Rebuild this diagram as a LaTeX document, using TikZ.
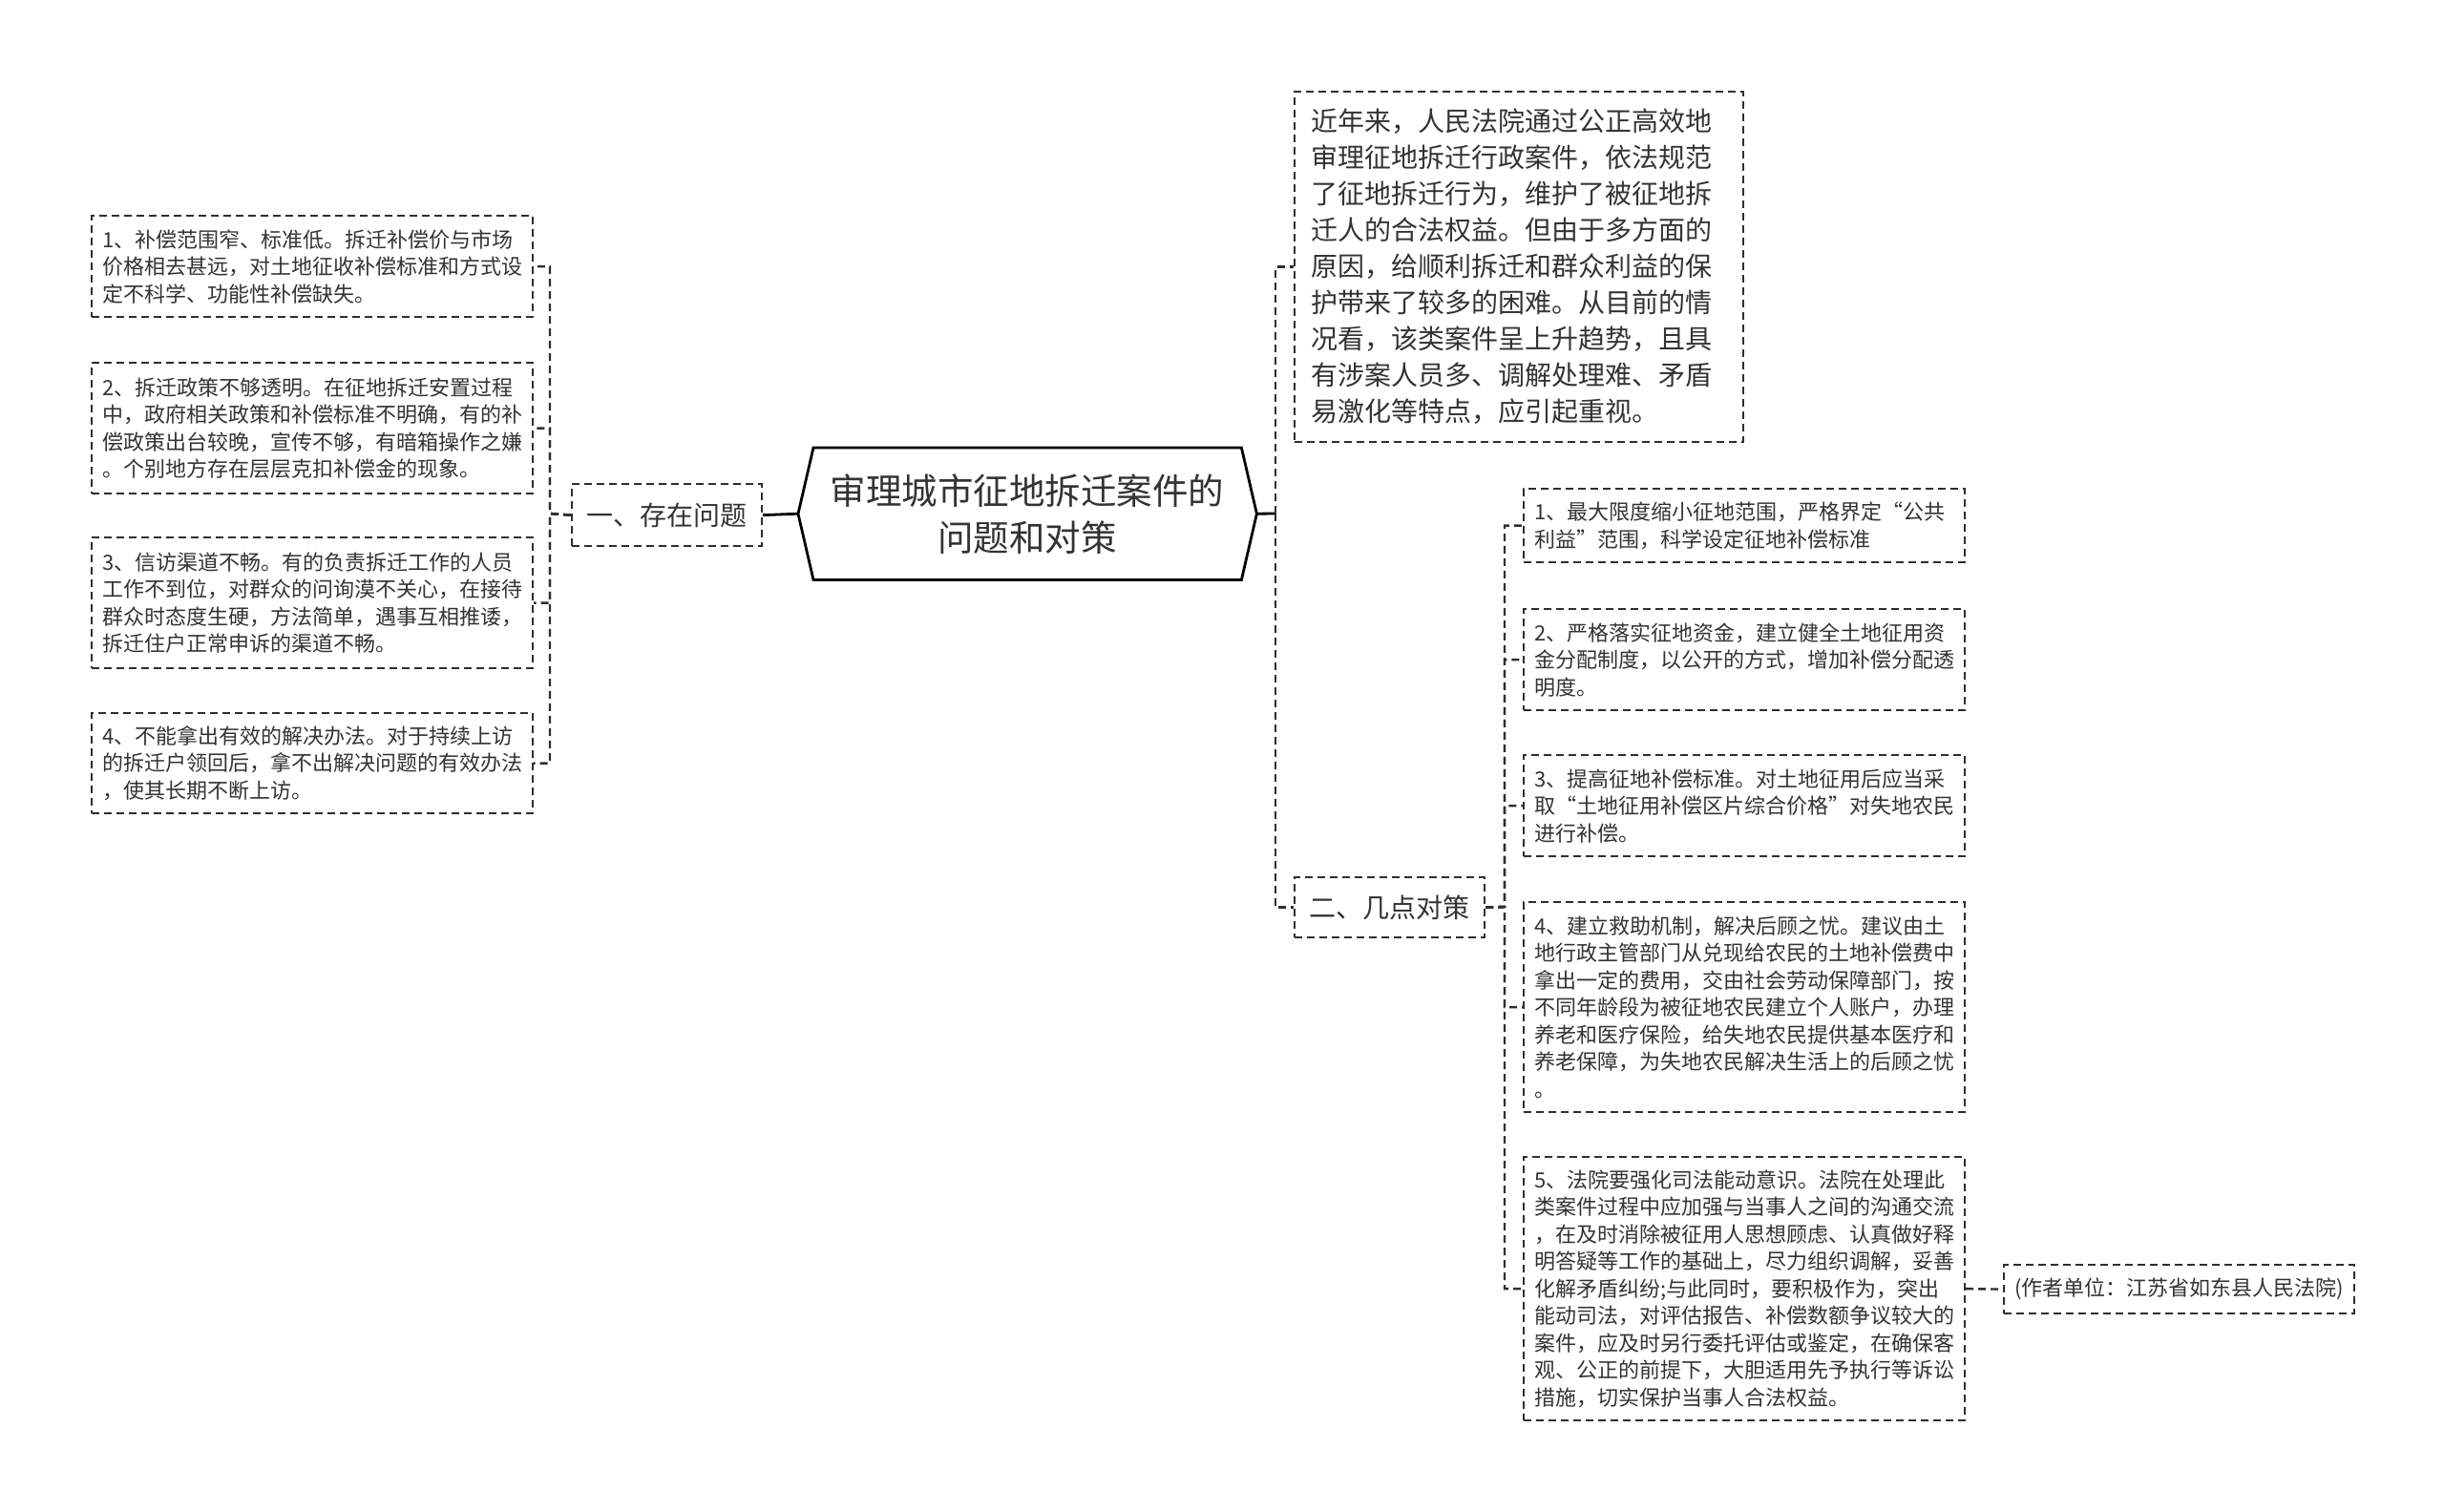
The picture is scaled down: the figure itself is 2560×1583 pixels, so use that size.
\documentclass[tikz,border=0pt]{standalone}
\usepackage{fontspec}
\setmainfont{Noto Sans CJK SC}
\definecolor{bordc}{HTML}{2E2E2E}
\definecolor{txtc}{HTML}{333333}
\tikzset{
  dbox/.style={draw=bordc, line width=2.2pt, dash pattern=on 8pt off 5pt, text=txtc, anchor=north west, inner ysep=0pt},
  smallbox/.style={dbox, align=left, font=\fontsize{22pt}{28.5pt}\selectfont, text width=440pt, inner xsep=11pt},
  midbox/.style={dbox, align=center, font=\fontsize{28pt}{36pt}\selectfont, minimum width=199pt, inner xsep=4pt},
  conn/.style={draw=bordc, line width=2.4pt, dash pattern=on 8pt off 5pt},
  rootconn/.style={draw=black, line width=2.8pt},
}
\begin{document}
\begin{tikzpicture}[x=1pt,y=-1pt]
\useasboundingbox[fill=white] (0,0) rectangle (2560,1583);

% root
\node[anchor=north west, minimum width=480pt, minimum height=138pt, inner sep=0pt, align=center, text=txtc,
      font=\fontsize{37.5pt}{49pt}\selectfont] (root) at (836,469) {审理城市征地拆迁案件的\\问题和对策};
\draw[black, line width=2.8pt, line join=miter]
  ([xshift=16pt]root.north west) -- ([xshift=-16pt]root.north east) -- (root.east)
  -- ([xshift=-16pt]root.south east) -- ([xshift=16pt]root.south west) -- (root.west) -- cycle;

% left branch
\node[midbox, minimum height=65pt] (b1) at (598,506) {一、存在问题};
\node[smallbox, minimum height=106pt] (L1) at (95,225) {1、补偿范围窄、标准低。拆迁补偿价与市场\\价格相去甚远，对土地征收补偿标准和方式设\\定不科学、功能性补偿缺失。};
\node[smallbox, minimum height=137pt] (L2) at (95,379) {2、拆迁政策不够透明。在征地拆迁安置过程\\中，政府相关政策和补偿标准不明确，有的补\\偿政策出台较晚，宣传不够，有暗箱操作之嫌\\。个别地方存在层层克扣补偿金的现象。};
\node[smallbox, minimum height=137pt] (L3) at (95,562) {3、信访渠道不畅。有的负责拆迁工作的人员\\工作不到位，对群众的问询漠不关心，在接待\\群众时态度生硬，方法简单，遇事互相推诿，\\拆迁住户正常申诉的渠道不畅。};
\node[smallbox, minimum height=105pt] (L4) at (95,746) {4、不能拿出有效的解决办法。对于持续上访\\的拆迁户领回后，拿不出解决问题的有效办法\\，使其长期不断上访。};

% right branch
\node[dbox, align=left, font=\fontsize{28pt}{38pt}\selectfont, text width=436pt, inner xsep=17pt, minimum height=367pt] (intro) at (1355,95)
 {近年来，人民法院通过公正高效地\\审理征地拆迁行政案件，依法规范\\了征地拆迁行为，维护了被征地拆\\迁人的合法权益。但由于多方面的\\原因，给顺利拆迁和群众利益的保\\护带来了较多的困难。从目前的情\\况看，该类案件呈上升趋势，且具\\有涉案人员多、调解处理难、矛盾\\易激化等特点，应引起重视。};
\node[midbox, minimum height=63pt] (b2) at (1355,918) {二、几点对策};
\node[smallbox, minimum height=77pt] (R1) at (1595,511) {1、最大限度缩小征地范围，严格界定“公共\\利益”范围，科学设定征地补偿标准};
\node[smallbox, minimum height=106pt] (R2) at (1595,637) {2、严格落实征地资金，建立健全土地征用资\\金分配制度，以公开的方式，增加补偿分配透\\明度。};
\node[smallbox, minimum height=106pt] (R3) at (1595,790) {3、提高征地补偿标准。对土地征用后应当采\\取“土地征用补偿区片综合价格”对失地农民\\进行补偿。};
\node[smallbox, minimum height=220pt] (R4) at (1595,944) {4、建立救助机制，解决后顾之忧。建议由土\\地行政主管部门从兑现给农民的土地补偿费中\\拿出一定的费用，交由社会劳动保障部门，按\\不同年龄段为被征地农民建立个人账户，办理\\养老和医疗保险，给失地农民提供基本医疗和\\养老保障，为失地农民解决生活上的后顾之忧\\。};
\node[smallbox, minimum height=276pt] (R5) at (1595,1211) {5、法院要强化司法能动意识。法院在处理此\\类案件过程中应加强与当事人之间的沟通交流\\，在及时消除被征用人思想顾虑、认真做好释\\明答疑等工作的基础上，尽力组织调解，妥善\\化解矛盾纠纷;与此同时，要积极作为，突出\\能动司法，对评估报告、补偿数额争议较大的\\案件，应及时另行委托评估或鉴定，在确保客\\观、公正的前提下，大胆适用先予执行等诉讼\\措施，切实保护当事人合法权益。};
\node[dbox, align=center, font=\fontsize{22pt}{28.5pt}\selectfont, minimum width=367pt, minimum height=51pt, inner xsep=4pt] (auth) at (2098,1324) {(作者单位：江苏省如东县人民法院)};

% junction coordinates
\coordinate (jl) at (576,538);
\coordinate (jr) at (1336,538);
\coordinate (j2) at (1576,950);

% connectors
\draw[rootconn] (root.west) -- (b1.east);
\draw[rootconn] (root.east) -- (jr);
\foreach \n in {L1,L2,L3,L4} \draw[conn] (b1.west) -- (jl) |- (\n.east);
\foreach \n in {intro,b2} \draw[conn] (jr) |- (\n.west);
\foreach \n in {R1,R2,R3,R4,R5} \draw[conn] (b2.east) -- (j2) |- (\n.west);
\draw[conn] (R5.east) -- (auth.west);
\end{tikzpicture}
\end{document}
